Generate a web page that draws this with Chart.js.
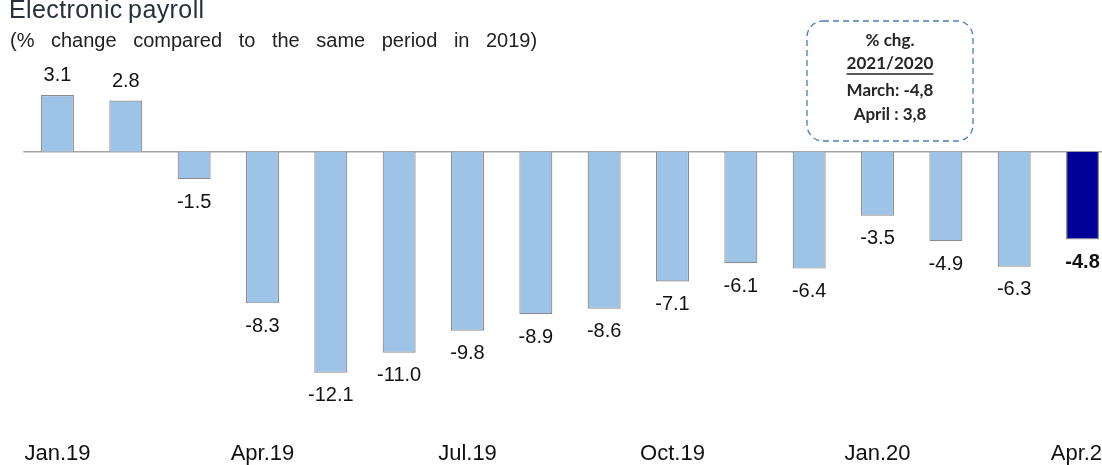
<!DOCTYPE html>
<html>
<head>
<meta charset="utf-8">
<script src="https://cdn.jsdelivr.net/npm/chart.js@4/dist/chart.umd.min.js"></script>
<style>
body{margin:0;overflow:hidden;background:#fff;width:1102px;height:465px;position:relative;}
#wrap{position:absolute;left:0;top:0;width:1120px;height:465px;}
.ttl{position:absolute;left:9px;top:-3px;font-family:"Liberation Sans",Arial,sans-serif;font-size:25px;line-height:25px;color:#27303b;letter-spacing:0.4px;word-spacing:-2px;white-space:nowrap;}
.sub{position:absolute;left:10px;top:30px;font-family:"Liberation Sans",Arial,sans-serif;font-size:20px;line-height:20px;color:#222;word-spacing:11px;white-space:nowrap;}
</style>
</head>
<body>
<div id="wrap"><canvas id="bar-chart" width="1120" height="465"></canvas></div>
<div class="ttl">Electronic payroll</div>
<div class="sub">(% change compared to the same period in 2019)</div>
<script>
let months=["Jan.19","Feb.19","Mar.19","Apr.19","May.19","Jun.19","Jul.19","Aug.19","Sep.19","Oct.19","Nov.19","Dec.19","Jan.20","Feb.20","Mar.20","Apr.20"];
let payroll=[3.1,2.8,-1.5,-8.3,-12.1,-11.0,-9.8,-8.9,-8.6,-7.1,-6.1,-6.4,-3.5,-4.9,-6.3,-4.8];
let boxLines=["% chg.","2021/2020","March: -4,8","April : 3,8"];

let barColors=[];
for(let i=0;i<payroll.length;i++){
  if(i===payroll.length-1){
    barColors.push("#000099");
  }
  else {
    barColors.push("#9dc3e6");
  };
};

//zero line under the bars
let zeroLine={
  id:"zeroLine",
  beforeDatasetsDraw(chart){
    let ctx=chart.ctx;
    let y=chart.scales.y.getPixelForValue(0);
    ctx.save();
    ctx.strokeStyle="#a6a6a6";
    ctx.lineWidth=1.5;
    ctx.beginPath();
    ctx.moveTo(chart.chartArea.left,y);
    ctx.lineTo(chart.chartArea.right,y);
    ctx.stroke();
    ctx.restore();
  }
};

//value labels above / below bars
let valueLabels={
  id:"valueLabels",
  afterDatasetsDraw(chart){
    let ctx=chart.ctx;
    let bars=chart.getDatasetMeta(0).data;
    ctx.save();
    ctx.textAlign="center";
    ctx.textBaseline="middle";
    ctx.fillStyle="#111";
    for(let i=0;i<bars.length;i++){
      let v=payroll[i];
      let last=(i===bars.length-1);
      ctx.font=(last?"bold ":"")+"20px 'Liberation Sans', Arial, sans-serif";
      if(v>=0){
        ctx.fillText(v.toFixed(1),bars[i].x,bars[i].y-19.5);
      }
      else {
        ctx.fillText(v.toFixed(1),bars[i].x,bars[i].y+23);
      };
    };
    ctx.restore();
  }
};

//dashed note box
let noteBox={
  id:"noteBox",
  afterDraw(chart){
    let ctx=chart.ctx;
    let x=807,y=21,w=166,h=120,r=16;
    ctx.save();
    ctx.strokeStyle="#4a7ebb";
    ctx.lineWidth=1.3;
    ctx.setLineDash([6,4]);
    ctx.beginPath();
    ctx.roundRect(x,y,w,h,r);
    ctx.stroke();
    ctx.setLineDash([]);
    ctx.fillStyle="#262626";
    ctx.textAlign="center";
    ctx.textBaseline="middle";
    ctx.font="bold 17px Lato, sans-serif";
    let ys=[41,64,91,115];
    for(let k=0;k<boxLines.length;k++){
      ctx.fillText(boxLines[k],890,ys[k]);
    };
    //underline 2021/2020
    let tw=ctx.measureText(boxLines[1]).width;
    ctx.strokeStyle="#262626";
    ctx.lineWidth=1.3;
    ctx.beginPath();
    ctx.moveTo(890-tw/2,74);
    ctx.lineTo(890+tw/2,74);
    ctx.stroke();
    ctx.restore();
  }
};

new Chart(document.getElementById("bar-chart"),{
  type:"bar",
  data:{
    labels:months,
    datasets:[{
      data:payroll,
      backgroundColor:barColors,
      borderColor:"#8c8c8c",
      borderWidth:1.2,
      barPercentage:0.483,
      categoryPercentage:1
    }]
  },
  options:{
    responsive:false,
    animation:false,
    devicePixelRatio:1,
    layout:{padding:{left:23.3,right:3.3,top:60.3,bottom:0}},
    plugins:{legend:{display:false},tooltip:{enabled:false},title:{display:false}},
    scales:{
      x:{
        grid:{display:false,drawTicks:false},
        border:{display:false},
        afterFit:function(scale){
          scale.height=57.5;
          scale.paddingLeft=0;
          scale.paddingRight=0;
        },
        ticks:{
          autoSkip:false,
          maxRotation:0,
          padding:33,
          color:"#111",
          font:{family:"'Liberation Sans', Arial, sans-serif",size:22},
          callback:function(val,i){
            if(i%3===0){
              return months[i];
            }
            return "";
          }
        }
      },
      y:{
        display:false,
        min:-14,
        max:5
      }
    }
  },
  plugins:[zeroLine,valueLabels,noteBox]
});
</script>
</body>
</html>
